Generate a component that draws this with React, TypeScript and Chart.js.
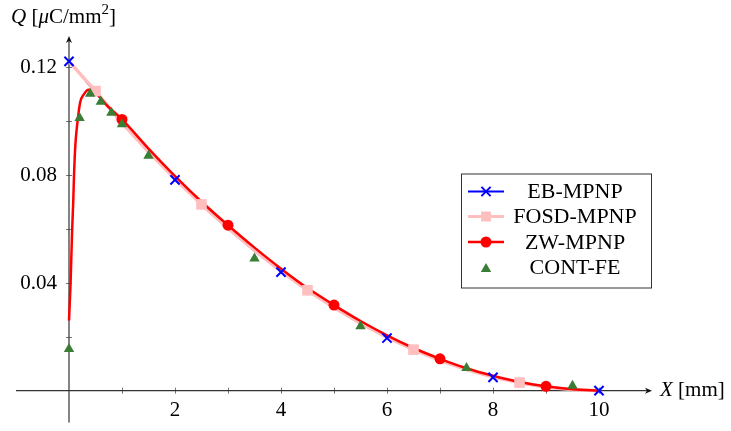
import { useEffect, useRef } from "react";
import { Chart, registerables } from "chart.js";
import { drawPoint } from "chart.js/helpers";

Chart.register(...registerables);

// ---- data ----
const ebX = [0, 0.5, 1, 1.5, 2, 2.5, 3, 3.5, 4, 4.5, 5, 5.5, 6, 6.5, 7, 7.5, 8, 8.5, 9, 9.5, 10];
const ebQ = [0.122, 0.110, 0.0988, 0.0881, 0.0781, 0.0686, 0.0598, 0.0515, 0.0439, 0.0369, 0.0305, 0.0247, 0.0195, 0.0149, 0.011, 0.0076, 0.0049, 0.0027, 0.0012, 0.0003, 0];
const ebMarkX = [0, 2, 4, 6, 8, 10];

const fosdX = [0, 0.5, 1, 1.5, 2, 2.5, 3, 3.5, 4, 4.5, 5, 5.5, 6, 6.5, 7, 7.5, 8, 8.5, 9, 9.5, 10];
const fosdQ = [0.122, 0.111, 0.0992, 0.0885, 0.0785, 0.069, 0.0602, 0.052, 0.0443, 0.0372, 0.0308, 0.025, 0.0198, 0.0152, 0.0112, 0.0078, 0.005, 0.003, 0.0013, 0.0004, 0];
const fosdMarkX = [0.5, 2.5, 4.5, 6.5, 8.5];

const zwX = [0, 0.03, 0.06, 0.08, 0.095, 0.12, 0.157, 0.21, 0.28, 0.37, 0.45, 0.55, 0.7, 1, 1.5, 2, 2.5, 3, 3.5, 4, 4.5, 5, 5.5, 6, 6.5, 7, 7.5, 8, 8.5, 9, 9.5, 10];
const zwQ = [0.026, 0.04, 0.06, 0.07, 0.08, 0.091, 0.099, 0.1068, 0.1098, 0.1115, 0.1115, 0.1095, 0.106, 0.1005, 0.0897, 0.0795, 0.07, 0.0613, 0.053, 0.0452, 0.038, 0.0317, 0.0258, 0.0205, 0.0158, 0.0118, 0.0083, 0.0055, 0.0032, 0.0016, 0.0005, 0];
const zwMarkX = [1, 3, 5, 7, 9];

const feX = [0, 0.2, 0.4, 0.6, 0.8, 1.0, 1.5, 3.5, 5.5, 7.5, 9.5];
const feQ = [0.0154, 0.101, 0.110, 0.107, 0.103, 0.0987, 0.087, 0.049, 0.0239, 0.0084, 0.0018];

const xMajorTicks = [2, 4, 6, 8, 10];
const xMinorTicks = [1, 3, 5, 7, 9];
const yMajorTicks = [0.04, 0.08, 0.12];
const yMinorTicks = [0.02, 0.06, 0.1];

const legendLabels = ["EB-MPNP", "FOSD-MPNP", "ZW-MPNP", "CONT-FE"];

const BLUE = "#0000ff";
const PINK = "#ffbfbf";
const RED = "#ff0000";
const GREEN = "#3a7d34";
const FONT = "'Liberation Serif', 'DejaVu Serif', serif";

const pts = (xs: number[], ys: number[]) => xs.map((x, i) => ({ x, y: ys[i] }));
const marks = (xs: number[], ys: number[], keep: number[]) =>
  pts(xs, ys).filter((p) => keep.includes(p.x));

const axesPlugin = {
  id: "axesPlugin",
  beforeDatasetsDraw(chart: any) {
    const ctx = chart.ctx;
    const xs = chart.scales.x;
    const ys = chart.scales.y;
    const x0 = xs.getPixelForValue(0);
    const y0 = ys.getPixelForValue(0);
    const left = chart.chartArea.left;
    const right = chart.chartArea.right;
    const top = chart.chartArea.top;
    const bottom = chart.chartArea.bottom;
    ctx.save();
    // ticks
    ctx.strokeStyle = "#777";
    ctx.lineWidth = 1;
    [...xMajorTicks, ...xMinorTicks].forEach((t) => {
      const px = Math.round(xs.getPixelForValue(t)) + 0.5;
      ctx.beginPath();
      ctx.moveTo(px, y0 - 3);
      ctx.lineTo(px, y0 + 3);
      ctx.stroke();
    });
    [...yMajorTicks, ...yMinorTicks].forEach((t) => {
      const py = Math.round(ys.getPixelForValue(t)) + 0.5;
      ctx.beginPath();
      ctx.moveTo(x0 - 3, py);
      ctx.lineTo(x0 + 3, py);
      ctx.stroke();
    });
    // axis lines
    ctx.strokeStyle = "#333";
    ctx.lineWidth = 1.2;
    ctx.beginPath();
    ctx.moveTo(left, y0);
    ctx.lineTo(right - 3, y0);
    ctx.moveTo(x0, bottom);
    ctx.lineTo(x0, top + 3);
    ctx.stroke();
    // arrows
    ctx.fillStyle = "#111";
    ctx.beginPath();
    ctx.moveTo(right, y0);
    ctx.lineTo(right - 7, y0 - 3);
    ctx.lineTo(right - 5, y0);
    ctx.lineTo(right - 7, y0 + 3);
    ctx.closePath();
    ctx.fill();
    ctx.beginPath();
    ctx.moveTo(x0, top);
    ctx.lineTo(x0 - 3, top + 7);
    ctx.lineTo(x0, top + 5);
    ctx.lineTo(x0 + 3, top + 7);
    ctx.closePath();
    ctx.fill();
    // tick labels
    ctx.fillStyle = "#000";
    ctx.font = `21px ${FONT}`;
    ctx.textAlign = "center";
    ctx.textBaseline = "middle";
    xMajorTicks.forEach((t) => {
      ctx.fillText(String(t), xs.getPixelForValue(t), y0 + 20);
    });
    ctx.textAlign = "right";
    yMajorTicks.forEach((t) => {
      ctx.fillText(t.toFixed(2), x0 - 12, ys.getPixelForValue(t) + 1);
    });
    // axis titles
    ctx.textAlign = "left";
    const drawSeq = (parts: [string, string, number][], sx: number, sy: number) => {
      let cx = sx;
      parts.forEach(([txt, font, dy]) => {
        ctx.font = font;
        ctx.fillText(txt, cx, sy + dy);
        cx += ctx.measureText(txt).width;
      });
    };
    drawSeq(
      [
        ["Q", `italic 21px ${FONT}`, 0],
        [" [", `21px ${FONT}`, 0],
        ["μ", `italic 21px ${FONT}`, 0],
        ["C/mm", `21px ${FONT}`, 0],
        ["2", `15px ${FONT}`, -7],
        ["]", `21px ${FONT}`, 0],
      ],
      11,
      17
    );
    drawSeq(
      [
        ["X", `italic 21px ${FONT}`, 0],
        [" [mm]", `21px ${FONT}`, 0],
      ],
      660,
      y0
    );
    ctx.restore();
  },
};

const legendPlugin = {
  id: "customLegend",
  afterDraw(chart: any) {
    const ctx = chart.ctx;
    ctx.save();
    const bx = 461, by = 173.5, bw = 190, bh = 114;
    ctx.fillStyle = "#fff";
    ctx.fillRect(bx, by, bw, bh);
    ctx.strokeStyle = "#333";
    ctx.lineWidth = 1;
    ctx.strokeRect(bx + 0.5, by + 0.5, bw, bh);
    const rows = [191.5, 216.5, 242, 267.5];
    const styles = [
      { color: BLUE, lw: 2, line: true, ps: "crossRot", r: 6.5, bw: 2 },
      { color: PINK, lw: 3, line: true, ps: "rect", r: 7, bw: 0 },
      { color: RED, lw: 2.5, line: true, ps: "circle", r: 5.5, bw: 0 },
      { color: GREEN, lw: 0, line: false, ps: "triangle", r: 6, bw: 0 },
    ];
    styles.forEach((s, i) => {
      const y = rows[i];
      if (s.line) {
        ctx.strokeStyle = s.color;
        ctx.lineWidth = s.lw;
        ctx.beginPath();
        ctx.moveTo(468, y);
        ctx.lineTo(504, y);
        ctx.stroke();
      }
      ctx.fillStyle = s.color;
      ctx.strokeStyle = s.color;
      ctx.lineWidth = s.bw || 0.001;
      drawPoint(ctx, { pointStyle: s.ps, radius: s.r, rotation: 0, borderWidth: s.bw || 0.001 } as any, 486, s.ps === "triangle" ? y + 1.5 : y);
      ctx.fillStyle = "#000";
      ctx.font = `22px ${FONT}`;
      ctx.textAlign = "center";
      ctx.textBaseline = "middle";
      ctx.fillText(legendLabels[i], 575, y + 1);
    });
    ctx.restore();
  },
};

export default function App() {
  const ref = useRef<HTMLCanvasElement | null>(null);
  useEffect(() => {
    if (!ref.current) return;
    const chart = new Chart(ref.current, {
      type: "scatter",
      data: {
        datasets: [
          { label: "EB line", data: pts(ebX, ebQ), showLine: true, borderColor: BLUE, borderWidth: 1, pointRadius: 0, order: 7 },
          { label: "FOSD line", data: pts(fosdX, fosdQ), showLine: true, borderColor: PINK, borderWidth: 3.5, pointRadius: 0, order: 6 },
          { label: "ZW line", data: pts(zwX, zwQ), showLine: true, borderColor: RED, borderWidth: 2.5, pointRadius: 0, cubicInterpolationMode: "monotone", order: 5 },
          { label: "EB-MPNP", data: marks(ebX, ebQ, ebMarkX), showLine: false, pointStyle: "crossRot", pointRadius: 6.5, borderColor: BLUE, backgroundColor: BLUE, pointBorderWidth: 2, order: 4 },
          { label: "FOSD-MPNP", data: marks(fosdX, fosdQ, fosdMarkX), showLine: false, pointStyle: "rect", pointRadius: 7.5, borderColor: PINK, backgroundColor: PINK, pointBorderWidth: 0, order: 3 },
          { label: "ZW-MPNP", data: marks(zwX, zwQ, zwMarkX), showLine: false, pointStyle: "circle", pointRadius: 5.5, borderColor: RED, backgroundColor: RED, pointBorderWidth: 0, order: 2 },
          { label: "CONT-FE", data: pts(feX, feQ), showLine: false, pointStyle: "triangle", pointRadius: 6, borderColor: GREEN, backgroundColor: GREEN, pointBorderWidth: 0, order: 1 },
        ] as any,
      },
      options: {
        animation: false,
        responsive: false,
        maintainAspectRatio: false,
        layout: { padding: { left: 16, right: 79, top: 36, bottom: 5 } },
        plugins: { legend: { display: false }, tooltip: { enabled: false } },
        datasets: { scatter: { clip: false } } as any,
        scales: {
          x: { type: "linear", min: -1, max: 11, display: false },
          y: { type: "linear", min: -0.0118, max: 0.1314, display: false },
        },
      },
      plugins: [axesPlugin, legendPlugin],
    });
    return () => chart.destroy();
  }, []);
  return (
    <div style={{ position: "absolute", left: 0, top: 0, width: 731, height: 431 }}>
      <canvas ref={ref} width={731} height={431} style={{ width: 731, height: 431 }} />
    </div>
  );
}
